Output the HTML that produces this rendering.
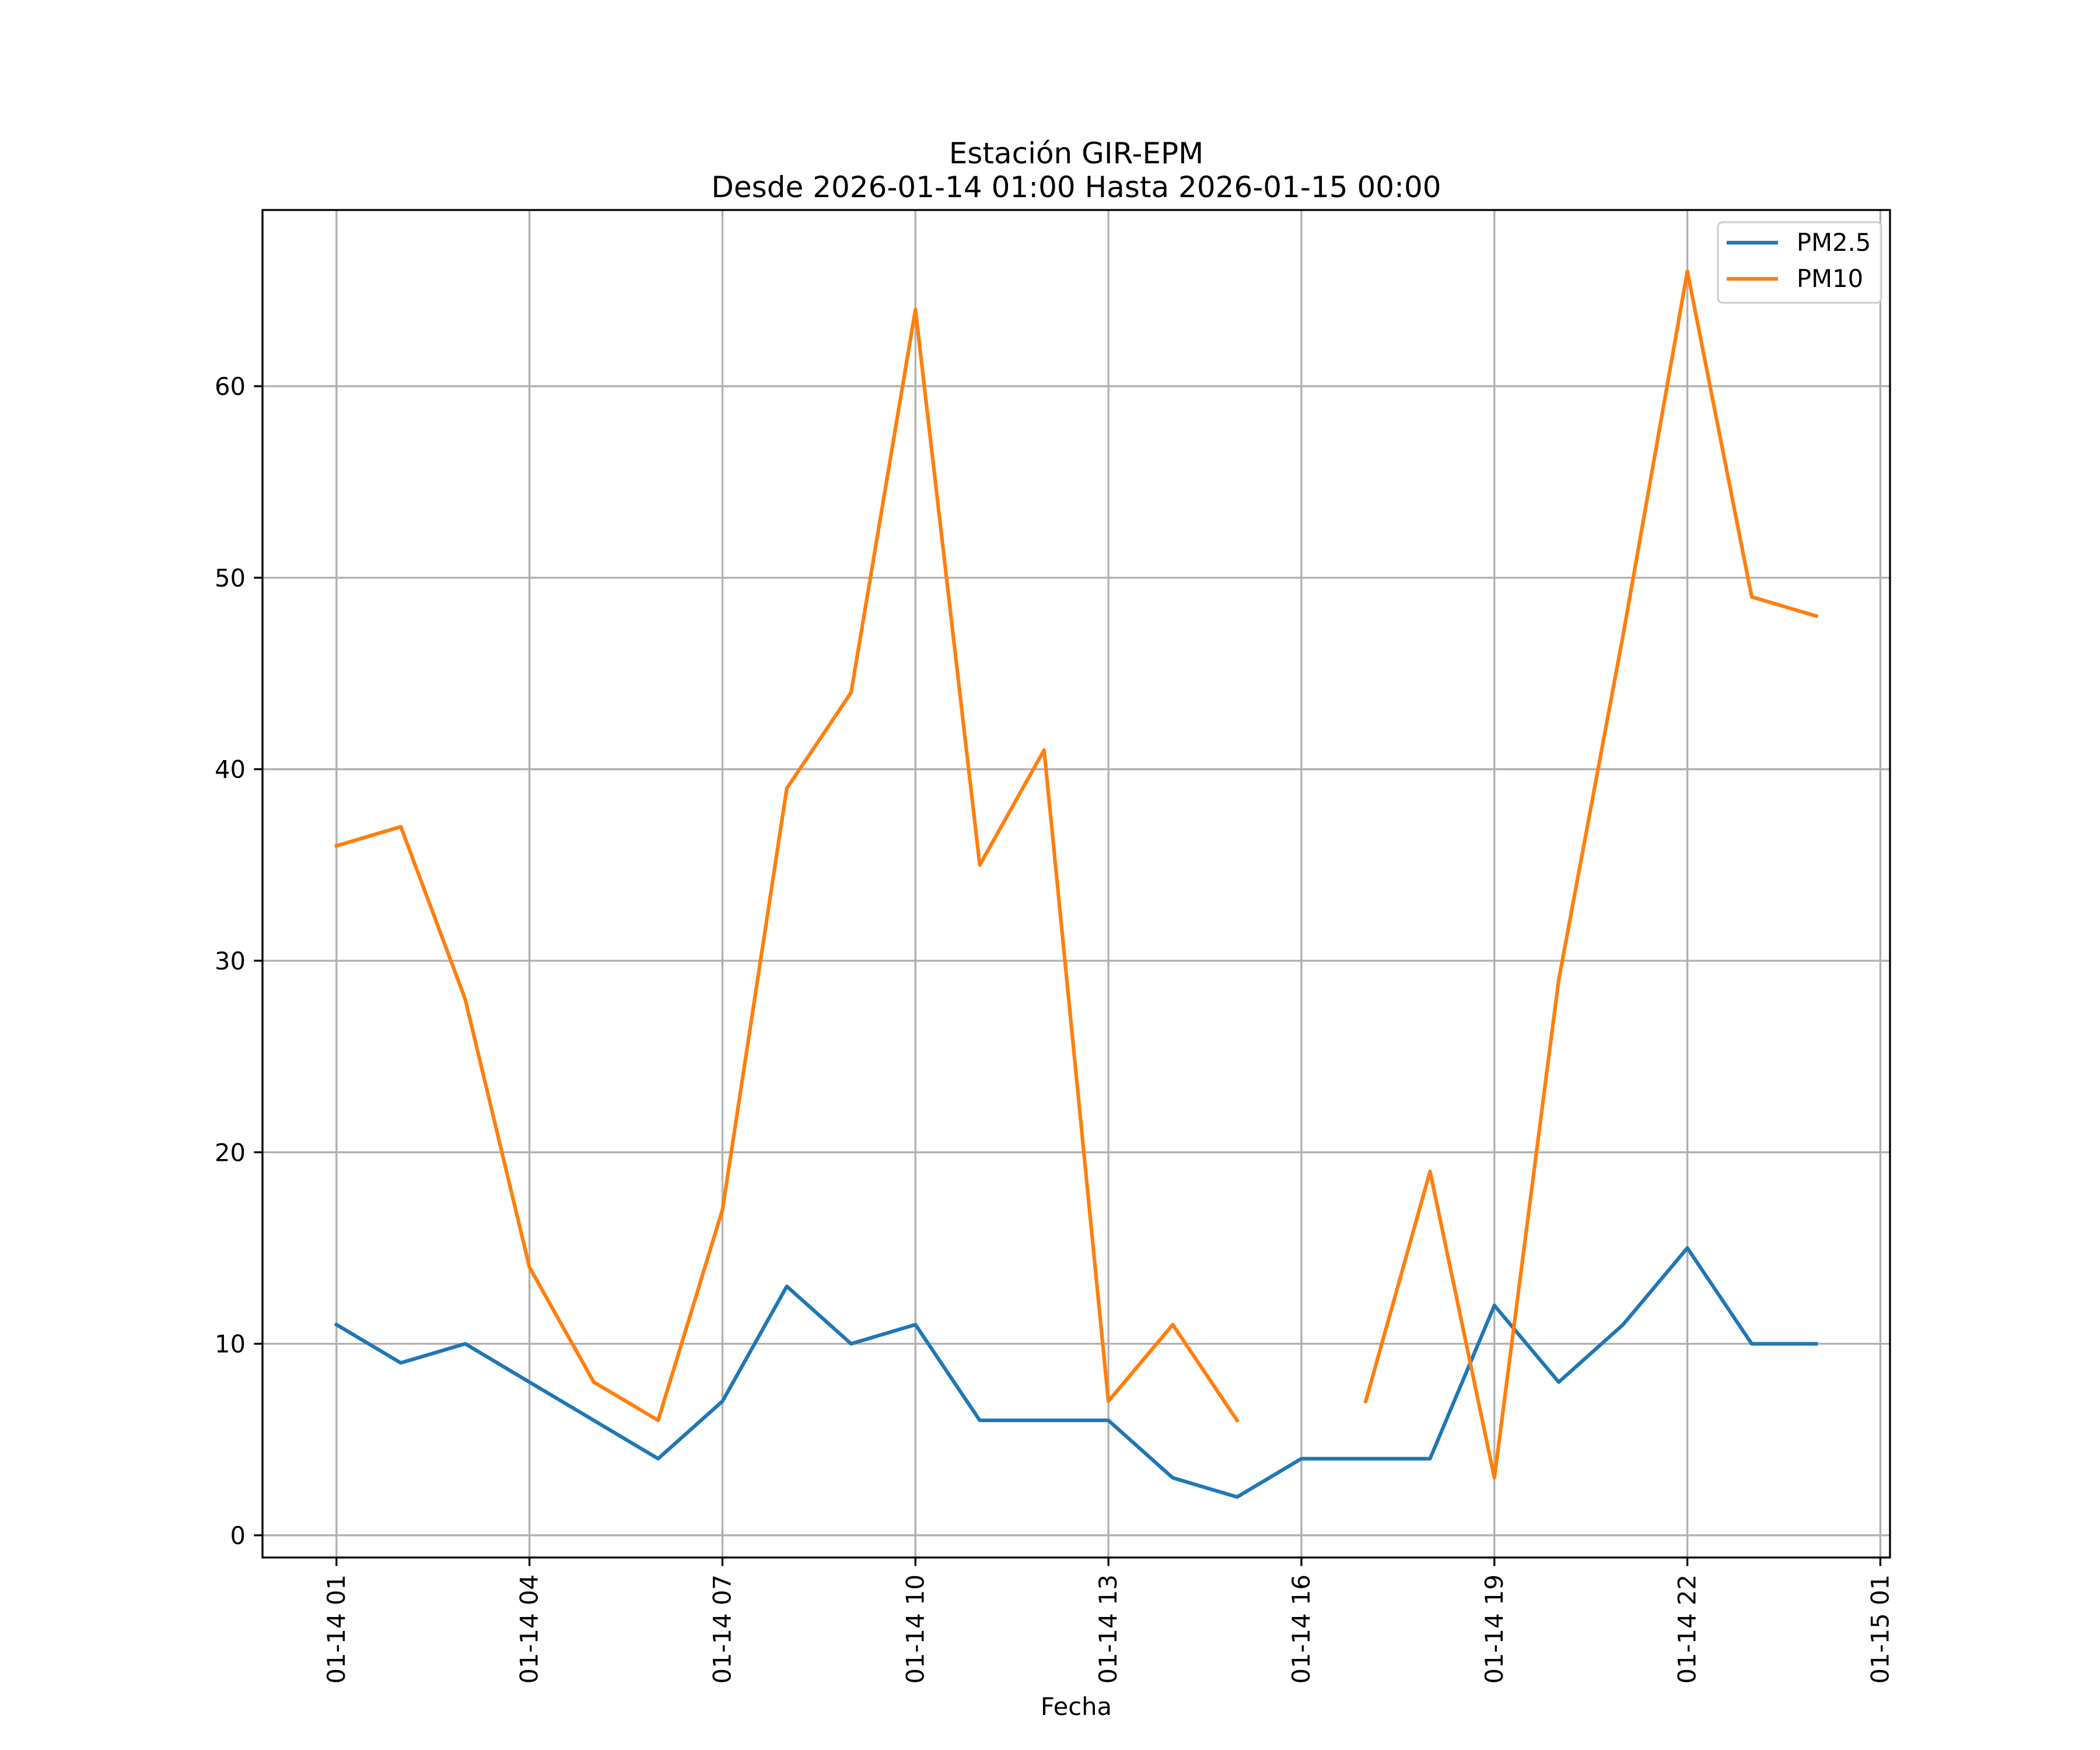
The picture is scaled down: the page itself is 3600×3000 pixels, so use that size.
<!DOCTYPE html>
<html><head><meta charset="utf-8"><style>
html,body{margin:0;padding:0;background:#fff;}
svg{display:block;font-family:"DejaVu Sans","Liberation Sans",sans-serif;}
</style></head><body>
<svg id="chart" width="3600" height="3000" viewBox="0 0 3600 3000">
<rect width="3600" height="3000" fill="#fff"/>
<g id="grid"></g>
<g id="series"></g>
<rect x="450" y="360" width="2790" height="2310" fill="none" stroke="#000" stroke-width="3.3"/>
<g id="ticks"></g>
<text x="1845" y="280" font-size="50" text-anchor="middle">Estación GIR-EPM</text>
<text x="1845" y="338" font-size="50" text-anchor="middle">Desde 2026-01-14 01:00 Hasta 2026-01-15 00:00</text>
<text x="1845" y="2940" font-size="41.7" text-anchor="middle">Fecha</text>
<g>
<rect x="2945" y="381" width="280" height="138" rx="8" fill="#fff" fill-opacity="0.8" stroke="#ccc" stroke-width="3"/>
<line x1="2960" y1="416" x2="3048" y2="416" stroke="#1f77b4" stroke-width="6.25"/>
<text x="3080" y="430" font-size="41.7">PM2.5</text>
<line x1="2960" y1="478" x2="3048" y2="478" stroke="#ff7f0e" stroke-width="6.25"/>
<text x="3080" y="492" font-size="41.7">PM10</text>
</g>
</svg>
<script>
const hours = [1,2,3,4,5,6,7,8,9,10,11,12,13,14,15,16,17,18,19,20,21,22,23,24];
const pm25 = [11,9,10,8,6,4,7,13,10,11,6,6,6,3,2,4,4,4,12,8,11,15,10,10];
const pm10 = [36,37,28,14,8,6,17,39,44,64,35,41,7,11,6,null,7,19,3,29,47,66,49,48];
const xTickHours = [1,4,7,10,13,16,19,22,25];
const xTickLabels = ["01-14 01","01-14 04","01-14 07","01-14 10","01-14 13","01-14 16","01-14 19","01-14 22","01-15 01"];
const yTicks = [0,10,20,30,40,50,60];

const NS="http://www.w3.org/2000/svg";
const L=450,R=3240,T=360,B=2670;
const xMin=1-1.15,xMax=24+1.15,yMin=-1.16,yMax=69.2;
const X=h=>L+(h-xMin)/(xMax-xMin)*(R-L);
const Y=v=>B-(v-yMin)/(yMax-yMin)*(B-T);
function mk(tag,attrs,parent){const e=document.createElementNS(NS,tag);for(const k in attrs)e.setAttribute(k,attrs[k]);parent.appendChild(e);return e;}
const grid=document.getElementById('grid'),ticks=document.getElementById('ticks'),series=document.getElementById('series');
xTickHours.forEach((h,i)=>{
  const x=X(h);
  const g=mk('line',{x1:x,y1:T,x2:x,y2:B,stroke:'#b0b0b0','stroke-width':3.3},grid);
  
  
  const t=mk('line',{x1:x,y1:B,x2:x,y2:B+14.6,stroke:'#000','stroke-width':3.3},ticks);
  
  
  const lb=mk('text',{x:0,y:0,'font-size':41.7,'text-anchor':'end',transform:`translate(${x+14},${B+29}) rotate(-90)`},ticks);
  lb.textContent=xTickLabels[i];
  
  
});
yTicks.forEach(v=>{
  const y=Y(v);
  const g=mk('line',{x1:L,y1:y,x2:R,y2:y,stroke:'#b0b0b0','stroke-width':3.3},grid);
  
  
  const t=mk('line',{x1:L-14.6,y1:y,x2:L,y2:y,stroke:'#000','stroke-width':3.3},ticks);
  
  
  const lb=mk('text',{x:L-29,y:y+15,'font-size':41.7,'text-anchor':'end'},ticks);
  lb.textContent=String(v);
  
  
});
function draw(vals,color,name){
  let d='',pen=false;
  vals.forEach((v,i)=>{
    if(v===null){pen=false;return;}
    d+=(pen?'L':'M')+X(hours[i]).toFixed(1)+' '+Y(v).toFixed(1)+' ';pen=true;
  });
  const p=mk('path',{d:d,fill:'none',stroke:color,'stroke-width':6.25,'stroke-linejoin':'round','stroke-linecap':'square'},series);
  
  
}
draw(pm25,'#1f77b4','pm25-line');
draw(pm10,'#ff7f0e','pm10-line');
</script>
</body></html>
